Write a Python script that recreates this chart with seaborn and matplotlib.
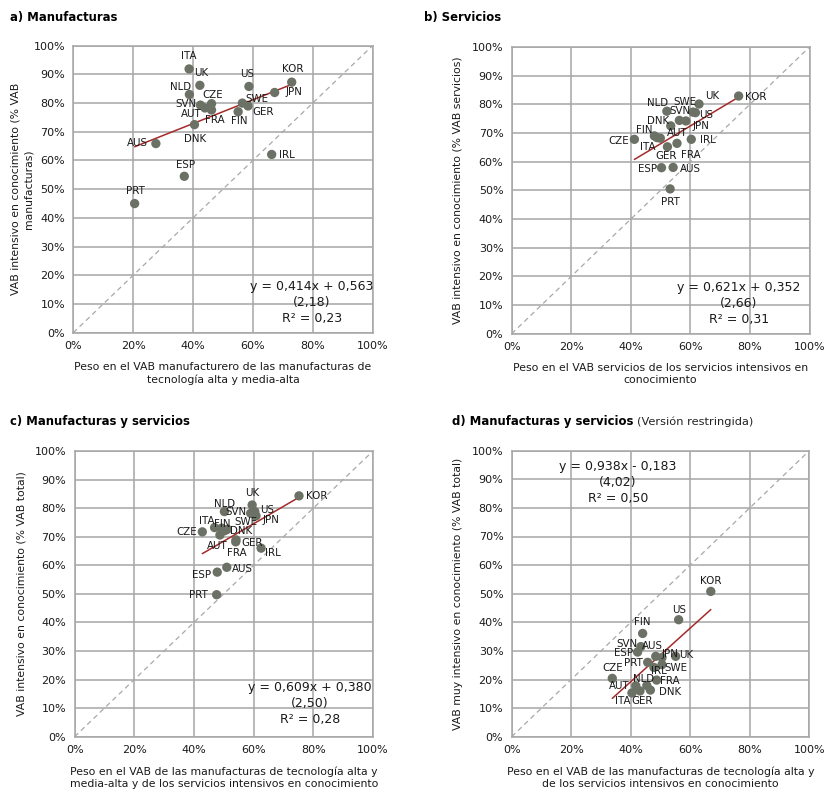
import matplotlib
matplotlib.use("Agg")
import matplotlib.pyplot as plt
from matplotlib.ticker import PercentFormatter
import numpy as np
import pandas as pd
import seaborn as sns

# ---------------- data ----------------
countries_a = ["ITA", "UK", "NLD", "CZE", "SVN", "AUT", "FRA", "DNK", "AUS", "ESP",
               "PRT", "US", "KOR", "JPN", "SWE", "GER", "FIN", "IRL"]
x_a = [0.387, 0.423, 0.388, 0.462, 0.425, 0.440, 0.462, 0.405, 0.276, 0.371,
       0.205, 0.587, 0.730, 0.673, 0.565, 0.584, 0.551, 0.663]
y_a = [0.919, 0.862, 0.830, 0.798, 0.793, 0.783, 0.776, 0.725, 0.659, 0.545,
       0.450, 0.858, 0.873, 0.837, 0.800, 0.790, 0.770, 0.621]

countries_b = ["KOR", "UK", "NLD", "SWE", "US", "SVN", "JPN", "DNK", "FIN", "ITA",
               "AUT", "CZE", "IRL", "FRA", "GER", "ESP", "AUS", "PRT"]
x_b = [0.762, 0.629, 0.521, 0.609, 0.617, 0.563, 0.585, 0.534, 0.479, 0.488,
       0.499, 0.412, 0.603, 0.555, 0.523, 0.503, 0.542, 0.532]
y_b = [0.829, 0.801, 0.776, 0.773, 0.771, 0.744, 0.742, 0.725, 0.690, 0.684,
       0.682, 0.678, 0.678, 0.664, 0.652, 0.579, 0.580, 0.505]

countries_c = ["KOR", "UK", "NLD", "SVN", "US", "JPN", "SWE", "ITA", "FIN", "DNK",
               "AUT", "CZE", "GER", "FRA", "IRL", "AUS", "ESP", "PRT"]
x_c = [0.752, 0.595, 0.502, 0.590, 0.604, 0.608, 0.503, 0.469, 0.493, 0.512,
       0.487, 0.428, 0.541, 0.540, 0.625, 0.510, 0.478, 0.476]
y_c = [0.843, 0.811, 0.788, 0.782, 0.788, 0.773, 0.721, 0.732, 0.730, 0.726,
       0.706, 0.717, 0.689, 0.682, 0.660, 0.593, 0.576, 0.497]

countries_d = ["KOR", "US", "FIN", "SVN", "ESP", "AUS", "JPN", "UK", "PRT", "SWE",
               "IRL", "CZE", "NLD", "FRA", "AUT", "ITA", "GER", "DNK"]
x_d = [0.669, 0.561, 0.440, 0.434, 0.423, 0.484, 0.505, 0.551, 0.457, 0.505,
       0.478, 0.338, 0.454, 0.487, 0.417, 0.404, 0.431, 0.466]
y_d = [0.508, 0.409, 0.361, 0.315, 0.296, 0.281, 0.277, 0.281, 0.260, 0.252,
       0.242, 0.204, 0.179, 0.198, 0.178, 0.153, 0.160, 0.163]

slopes = [0.414, 0.621, 0.609, 0.938]
intercepts = [0.563, 0.352, 0.380, -0.183]
t_stats = ["2,18", "2,66", "2,50", "4,02"]
r_squared = ["0,23", "0,31", "0,28", "0,50"]

titles = ["a) Manufacturas", "b) Servicios", "c) Manufacturas y servicios",
          "d) Manufacturas y servicios"]
subtitle_d = "(Versión restringida)"
x_labels = [
    "Peso en el VAB manufacturero de las manufacturas de\ntecnología alta y media-alta",
    "Peso en el VAB servicios de los servicios intensivos en\nconocimiento",
    "Peso en el VAB de las manufacturas de tecnología alta y\nmedia-alta y de los servicios intensivos en conocimiento",
    "Peso en el VAB de las manufacturas de tecnología alta y\nde los servicios intensivos en conocimiento",
]
y_labels = [
    "VAB intensivo en conocimiento (% VAB\nmanufacturas)",
    "VAB intensivo en conocimiento (% VAB servicios)",
    "VAB intensivo en conocimiento (% VAB total)",
    "VAB muy intensivo en conocimiento (% VAB total)",
]

# ---------------- label placement (pixel offsets from each point) ----------------
offs_a = {"ITA": (0, 13), "UK": (1, 12), "NLD": (-9, 7), "CZE": (1, 9), "SVN": (-15, 1),
          "AUT": (-14, -6), "FRA": (3, -10), "DNK": (1, -14), "AUS": (-18, 1),
          "ESP": (1, 11), "PRT": (1, 13), "US": (-2, 12), "KOR": (1, 13),
          "JPN": (19, 0), "SWE": (15, 4), "GER": (15, -6), "FIN": (1, -9), "IRL": (15, -1)}
offs_b = {"KOR": (17, -1), "UK": (13, 8), "NLD": (-9, 8), "SWE": (-8, 10), "US": (11, -2),
          "SVN": (1, 9), "JPN": (15, -5), "DNK": (-13, 5), "FIN": (-10, 6),
          "ITA": (-9, -9), "AUT": (17, 5), "CZE": (-16, -2), "IRL": (17, -1),
          "FRA": (14, -12), "GER": (-1, -9), "ESP": (-14, -1), "AUS": (17, -2),
          "PRT": (0, -13)}
offs_c = {"KOR": (18, 0), "UK": (0, 12), "NLD": (0, 8), "SVN": (-15, 1), "US": (12, 2),
          "JPN": (15, -4), "SWE": (21, 9), "ITA": (-8, 7), "FIN": (1, 4),
          "DNK": (14, -2), "AUT": (-3, -11), "CZE": (-16, 0), "GER": (16, -3),
          "FRA": (1, -11), "IRL": (12, -5), "AUS": (16, -2), "ESP": (-16, -3),
          "PRT": (-18, 0)}
offs_d = {"KOR": (0, 10), "US": (0, 10), "FIN": (0, 11), "SVN": (-14, 3), "ESP": (-14, -1),
          "AUS": (-3, 10), "JPN": (8, 3), "UK": (11, 1), "PRT": (-14, -1),
          "SWE": (14, -3), "IRL": (5, -4), "CZE": (0, 10), "NLD": (-3, 7),
          "FRA": (13, -1), "AUT": (-17, 0), "ITA": (-9, -8), "GER": (2, -10),
          "DNK": (20, -2)}

# ---------------- style ----------------
sns.set_theme(style="white")
plt.rcParams["font.family"] = ["DejaVu Sans"]

W, H = 826, 794
fig = plt.figure(figsize=(W / 100, H / 100), dpi=100)

GRID = "#a6a6a6"
DOT = "#6b7265"
LINE = "#a52a2a"
TXT = "#1a1a1a"


def box(x0, x1, ytop, ybot):
    return [x0 / W, 1 - ybot / H, (x1 - x0) / W, (ybot - ytop) / H]


boxes = [box(73.3, 372.5, 45.7, 332.7), box(511.7, 809.5, 47.0, 333.7),
         box(74.6, 373.0, 451.0, 736.7), box(511.7, 809.3, 450.7, 736.7)]
eq_pos = [(0.798, 0.105), (0.762, 0.105), (0.789, 0.115), (0.357, 0.890)]
ylab_x = [22, 458, 22, 458]

panels = [(countries_a, x_a, y_a, offs_a), (countries_b, x_b, y_b, offs_b),
          (countries_c, x_c, y_c, offs_c), (countries_d, x_d, y_d, offs_d)]

for i, (names, xs, ys, offs) in enumerate(panels):
    ax = fig.add_axes(boxes[i])
    df = pd.DataFrame({"pais": names, "x": xs, "y": ys})

    ax.set_xlim(0, 1)
    ax.set_ylim(0, 1)
    ax.set_xticks(np.linspace(0, 1, 6))
    ax.set_yticks(np.linspace(0, 1, 11))
    ax.xaxis.set_major_formatter(PercentFormatter(1.0, decimals=0))
    ax.yaxis.set_major_formatter(PercentFormatter(1.0, decimals=0))
    ax.grid(True, color=GRID, linewidth=1.1, zorder=0)
    ax.set_axisbelow(True)
    for s in ax.spines.values():
        s.set_color(GRID)
        s.set_linewidth(1.1)
    ax.tick_params(axis="both", length=0, labelsize=8, colors=TXT, pad=6)

    # 45-degree reference line
    ax.plot([0, 1], [0, 1], linestyle=(0, (4, 3)), color="#a8a8a8", linewidth=0.9, zorder=1)

    # fitted line over the observed range
    xr = np.array([df["x"].min(), df["x"].max()])
    fit = pd.DataFrame({"x": xr, "y": slopes[i] * xr + intercepts[i]})
    sns.lineplot(data=fit, x="x", y="y", ax=ax, color=LINE, linewidth=1.1, zorder=3)

    sns.scatterplot(data=df, x="x", y="y", ax=ax, color=DOT, s=45, edgecolor="none",
                    linewidth=0, zorder=4, legend=False)

    for _, r in df.iterrows():
        dx, dy = offs[r["pais"]]
        ax.annotate(r["pais"], (r["x"], r["y"]), xytext=(dx, dy),
                    textcoords="offset pixels", ha="center", va="center",
                    fontsize=7.4, color=TXT, zorder=5)

    sign = "+" if intercepts[i] >= 0 else "-"
    slope_txt = f"{slopes[i]:.3f}".replace(".", ",")
    int_txt = f"{abs(intercepts[i]):.3f}".replace(".", ",")
    eq = f"y = {slope_txt}x {sign} {int_txt}\n({t_stats[i]})\nR² = {r_squared[i]}"
    ex, ey = eq_pos[i]
    ax.text(ex, ey, eq, transform=ax.transAxes, ha="center", va="center",
            fontsize=9, color=TXT, linespacing=1.3, zorder=6)

    ax.set_xlabel(x_labels[i], fontsize=7.8, color=TXT, labelpad=8, linespacing=1.25)
    ax.set_ylabel("")
    yc = 1 - (boxes[i][1] + boxes[i][3] / 2)
    fig.text(ylab_x[i] / W, 1 - yc, y_labels[i], rotation=90, ha="center", va="center",
             fontsize=7.8, color=TXT, linespacing=1.25)

# panel titles
title_px = [(10, 18), (424, 18), (10, 422), (452, 422)]
renderer = fig.canvas.get_renderer()
for i, t in enumerate(titles):
    tx, ty = title_px[i]
    tt = fig.text(tx / W, 1 - ty / H, t, ha="left", va="center", fontsize=8.4,
                  fontweight="bold", color="black")
    if i == 3:
        bb = tt.get_window_extent(renderer=renderer)
        fig.text((bb.x1 + 4) / W, 1 - ty / H, subtitle_d, ha="left", va="center",
                 fontsize=8.2, color="#222222")

fig.savefig("out.png", dpi=100)
